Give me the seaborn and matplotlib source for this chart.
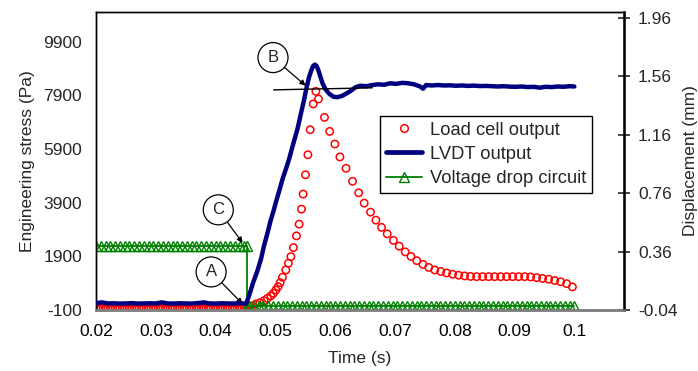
import numpy as np
import pandas as pd
import matplotlib
matplotlib.use("Agg")
import matplotlib.pyplot as plt
import seaborn as sns

# ---------------- data ----------------
# Load cell output (left axis, Pa)
red_base_level = -40.0
red_time = [0.04505, 0.04589, 0.04673, 0.04740, 0.04812, 0.04867, 0.04924, 0.04967,
            0.05008, 0.05046, 0.05080, 0.05118, 0.05175, 0.05218, 0.05259, 0.05302,
            0.05352, 0.05397, 0.05436, 0.05464, 0.05503, 0.05543, 0.05582, 0.05632,
            0.05677, 0.05721, 0.05821, 0.05908, 0.05995, 0.06079, 0.06181, 0.06290,
            0.06393, 0.06485, 0.06591, 0.06681, 0.06775, 0.06870, 0.06974, 0.07071,
            0.07172, 0.07267, 0.07364, 0.07468, 0.07565, 0.07665, 0.07766, 0.07863,
            0.07963, 0.08064, 0.08164, 0.08264, 0.08365, 0.08465, 0.08566, 0.08666,
            0.08767, 0.08867, 0.08967, 0.09068, 0.09168, 0.09268, 0.09369, 0.09469,
            0.09570, 0.09670, 0.09771, 0.09871, 0.09967]
red_stress = [-37, 49, 124, 172, 247, 337, 422, 523,
              646, 769, 919, 1120, 1392, 1642, 1889, 2224,
              2661, 3097, 3657, 4217, 4937, 5683, 6616, 7575,
              8045, 7761, 7075, 6552, 6082, 5601, 5179, 4694,
              4265, 3881, 3545, 3247, 2978, 2736, 2493, 2277,
              2064, 1896, 1739, 1598, 1486, 1392, 1336, 1280,
              1232, 1195, 1169, 1150, 1142, 1142, 1142, 1142,
              1142, 1142, 1142, 1142, 1142, 1131, 1105, 1075,
              1045, 1001, 952, 881, 760]

# LVDT output (right axis, mm)
blue_time = [0.0200, 0.0210, 0.0220, 0.0230, 0.0240, 0.0250, 0.0260, 0.0270, 0.0280,
             0.0290, 0.0300, 0.0310, 0.0320, 0.0330, 0.0340, 0.0350, 0.0360, 0.0370,
             0.0380, 0.0390, 0.0400, 0.0410, 0.0420, 0.0430, 0.0440, 0.0451,
             0.0456, 0.0463, 0.0470, 0.0476, 0.0481, 0.0487, 0.0492, 0.0497, 0.0501,
             0.0506, 0.0512, 0.0518, 0.0523, 0.0530, 0.0537, 0.0543, 0.0548, 0.0552,
             0.0556, 0.0560, 0.0563, 0.0566, 0.0569, 0.0572, 0.0575, 0.0579, 0.0584,
             0.0590, 0.0597, 0.0604, 0.0611, 0.0618, 0.0626, 0.0634, 0.0642, 0.0652,
             0.0662, 0.0672, 0.0682, 0.0692, 0.0702, 0.0712, 0.0722, 0.0732, 0.0742,
             0.0747, 0.0752, 0.0762, 0.0772, 0.0782, 0.0792, 0.0802, 0.0812, 0.0822,
             0.0832, 0.0842, 0.0852, 0.0862, 0.0872, 0.0882, 0.0892, 0.0902, 0.0912,
             0.0922, 0.0932, 0.0942, 0.0952, 0.0962, 0.0972, 0.0982, 0.0992, 0.1000]
blue_disp = [0.007, 0.012, 0.005, 0.006, 0.004, 0.005, 0.007, 0.004, 0.005,
             0.006, 0.005, 0.012, 0.005, 0.004, 0.006, 0.005, 0.004, 0.007,
             0.012, 0.005, 0.004, 0.006, 0.005, 0.004, 0.007, 0.003,
             0.058, 0.150, 0.229, 0.310, 0.400, 0.490, 0.572, 0.640, 0.700,
             0.770, 0.857, 0.930, 0.994, 1.100, 1.200, 1.310, 1.400, 1.480,
             1.550, 1.600, 1.630, 1.640, 1.630, 1.600, 1.560, 1.510, 1.470,
             1.440, 1.420, 1.417, 1.425, 1.440, 1.460, 1.485, 1.495, 1.492,
             1.500, 1.505, 1.502, 1.512, 1.508, 1.515, 1.512, 1.505, 1.490,
             1.475, 1.500, 1.497, 1.500, 1.497, 1.498, 1.495, 1.497, 1.494,
             1.496, 1.493, 1.494, 1.492, 1.490, 1.492, 1.489, 1.488, 1.490,
             1.486, 1.488, 1.482, 1.488, 1.486, 1.490, 1.488, 1.492, 1.490]

# Voltage drop circuit (left axis, Pa): step signal
green_high = 2290.0
green_low = 40.0
green_switch = 0.0453
green_sample_step = 0.0008

# steady-state reference line near B (right axis, mm)
ref_time = [0.0497, 0.0662]
ref_disp = [1.467, 1.481]

xticks = [0.02, 0.03, 0.04, 0.05, 0.06, 0.07, 0.08, 0.09, 0.1]
xticklabels = ["0.02", "0.03", "0.04", "0.05", "0.06", "0.07", "0.08", "0.09", "0.1"]
yticks_left = [-100, 1900, 3900, 5900, 7900, 9900]
yticks_right = [-0.04, 0.36, 0.76, 1.16, 1.56, 1.96]

# ---------------- build frames ----------------
red_base_t = np.arange(0.0200, 0.0450, 0.0004)
red_df = pd.DataFrame({
    "t": np.concatenate([red_base_t, red_time]),
    "v": np.concatenate([np.full(len(red_base_t), red_base_level), red_stress]),
})
grid = np.arange(0.0200, 0.10001, green_sample_step)
hi_t = np.append(grid[grid < green_switch], green_switch)
lo_t = np.insert(grid[grid > green_switch], 0, green_switch)
green_df = pd.DataFrame({
    "t": np.concatenate([hi_t, lo_t]),
    "v": np.concatenate([np.full(len(hi_t), green_high), np.full(len(lo_t), green_low)]),
})
blue_df = pd.DataFrame({"t": blue_time, "v": blue_disp})

# ---------------- plot ----------------
sns.set_style("white")
plt.rcParams['font.family'] = ['Liberation Sans', 'DejaVu Sans']
FS = 12.5

fig = plt.figure(figsize=(6.98, 3.71), dpi=100)
ax = fig.add_axes([96 / 698, 1 - 310 / 371, 528 / 698, 298 / 371])
ax2 = ax.twinx()

RED = "#FF0000"
NAVY = "#000080"
GREEN = "#008000"

sns.scatterplot(data=red_df, x="t", y="v", ax=ax, marker="o", s=28,
                facecolors="none", edgecolor=RED, linewidth=1.1, zorder=2, legend=False)
sns.lineplot(data=green_df, x="t", y="v", ax=ax, color=GREEN, lw=1.3,
             estimator=None, sort=False, marker="^", markersize=6.5,
             markerfacecolor="none", markeredgecolor=GREEN, markeredgewidth=1.0,
             zorder=3, legend=False)
sns.lineplot(data=blue_df, x="t", y="v", ax=ax2, color=NAVY, lw=3.2,
             estimator=None, sort=False, zorder=3, legend=False)
ax2.plot(ref_time, ref_disp, color="black", lw=1.0, zorder=4)

ax.set_xlim(0.02, 0.1083)
ax.set_ylim(-100, 11000)
ax2.set_ylim(-0.04, 2.0)

ax.set_xticks(xticks)
ax.set_xticklabels(xticklabels)
ax.set_yticks(yticks_left)
ax.set_yticklabels([str(v) for v in yticks_left])
ax2.set_yticks(yticks_right)
ax2.set_yticklabels([f"{v:.2f}" for v in yticks_right])

ax.tick_params(axis="x", labelsize=FS, length=4, width=1, direction="out", pad=6, colors="black")
ax.tick_params(axis="y", labelsize=FS, length=0, pad=10)
ax2.tick_params(axis="y", labelsize=FS, length=8, width=1.2, direction="inout", pad=6)

ax.set_xlabel("Time (s)", fontsize=FS, labelpad=9)
ax.set_ylabel("Engineering stress (Pa)", fontsize=FS, labelpad=6)
ax2.set_ylabel("Displacement (mm)", fontsize=FS, labelpad=4)

for a in (ax, ax2):
    for sp in a.spines.values():
        sp.set_visible(True)
        sp.set_color("black")
        sp.set_linewidth(1.0)
ax2.spines["right"].set_linewidth(1.8)
ax.spines["bottom"].set_color("#808080")
ax.spines["bottom"].set_linewidth(1.8)
ax2.spines["bottom"].set_color("#808080")
ax2.spines["bottom"].set_linewidth(1.8)

# legend
from matplotlib.lines import Line2D
handles = [
    Line2D([], [], ls="none", marker="o", markersize=5.5, markerfacecolor="none",
           markeredgecolor=RED, markeredgewidth=1.1),
    Line2D([], [], color=NAVY, lw=3.4),
    Line2D([], [], color=GREEN, lw=1.3, marker="^", markersize=6.5,
           markerfacecolor="none", markeredgecolor=GREEN),
]
labels = ["Load cell output", "LVDT output", "Voltage drop circuit"]
leg = ax2.legend(handles, labels, loc="upper left", bbox_to_anchor=(0.538, 0.651),
                 fontsize=13.2, frameon=True, fancybox=False, shadow=False,
                 edgecolor="black", framealpha=1, handlelength=2.0,
                 handletextpad=0.45, labelspacing=0.4, borderpad=0.3,
                 borderaxespad=0)
leg.get_frame().set_linewidth(1.0)
leg.set_zorder(10)

# annotations (circles with arrows)
circ = dict(boxstyle="circle,pad=0.45", fc="white", ec="black", lw=0.9)
arrow = dict(arrowstyle="-|>", color="black", lw=0.9, mutation_scale=8,
             shrinkA=0, shrinkB=0)
ax.annotate("B", xy=(0.05506, 8258), xytext=(0.04960, 9302), fontsize=12,
            ha="center", va="center", bbox=circ, arrowprops=arrow, zorder=6)
ax.annotate("C", xy=(0.04452, 2400), xytext=(0.04045, 3631), fontsize=12,
            ha="center", va="center", bbox=circ, arrowprops=arrow, zorder=6)
ax.annotate("A", xy=(0.04452, 124), xytext=(0.03925, 1318), fontsize=12,
            ha="center", va="center", bbox=circ, arrowprops=arrow, zorder=6)

fig.savefig("out.png", dpi=100)
